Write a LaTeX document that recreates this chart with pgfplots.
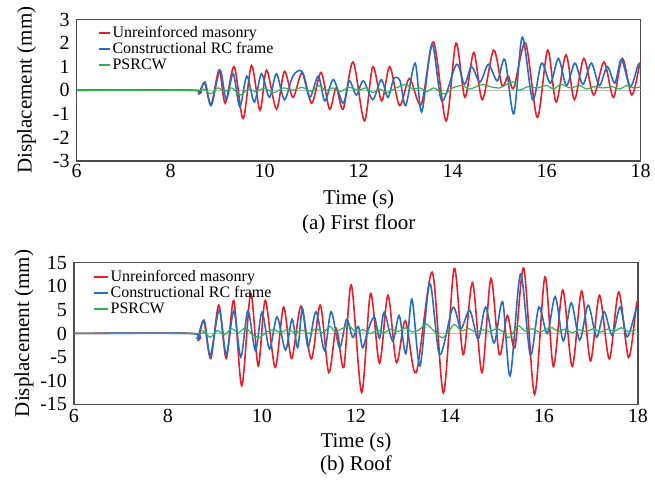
\documentclass[border=0pt]{standalone}
\usepackage{fontspec}
\setmainfont{Liberation Serif}
\usepackage{pgfplots}
\pgfplotsset{compat=1.18}
\definecolor{cred}{RGB}{232,30,42}
\definecolor{cblue}{RGB}{36,112,192}
\definecolor{cgreen}{RGB}{52,176,84}
\pgfplotsset{
 panel/.style={
  scale only axis, width=282pt, height=70.75pt,
  xmin=6, xmax=18, xtick={6,8,...,18},
  major tick length=0pt,
  axis line style={draw=black!70, line width=0.6pt},
  tick label style={font=\fontsize{10}{12}\selectfont},
  /pgf/number format/assume math mode=true,
  xticklabel style={anchor=center, yshift=-5pt},
  label style={font=\fontsize{10.5}{12}\selectfont},
  xlabel style={at={(axis description cs:0.5,0)}, anchor=center, yshift=-19pt},
  ylabel style={at={([xshift=-25pt]axis description cs:0,0.5)}, anchor=center},
  legend style={draw=none, fill=none, anchor=north west, font=\fontsize{8}{8.5}\selectfont,
    inner sep=0pt, row sep=-0.6pt, nodes={inner sep=0.8pt}},
  legend cell align=left,
  legend image code/.code={\draw[##1, line width=1pt] (0pt,0.3pt) -- (5.5pt,0.3pt);},
  xlabel={Time (s)}, ylabel={Displacement (mm)},
 },
 longleg/.style={legend image code/.code={\draw[##1, line width=1pt] (0pt,0.3pt) -- (7pt,0.3pt);}},
}
\begin{document}
\begin{tikzpicture}
\useasboundingbox (-38.35pt,9.75pt) rectangle (289.15pt,-229.75pt);
\begin{axis}[panel, name=top, at={(0pt,0pt)}, anchor=north west,
  ymin=-3, ymax=3, ytick={-3,-2,...,3},
  legend style={at={(axis description cs:0.037,0.965)}}]
\addplot[black!25, line width=0.6pt, forget plot] coordinates {(6,0) (18,0)};
\addplot[cred, line width=0.8pt, smooth] coordinates {
(6.0,0) (8.45,0) (8.6,-0.1) (8.72,0.3) (8.86,-0.6) (9.03,0.85) (9.16,-0.55) (9.35,1.0)
(9.54,-1.2) (9.72,1.05) (9.9,-0.85) (10.04,0.85) (10.25,-0.8) (10.42,0.8) (10.6,-0.3)
(10.8,0.75) (11.0,-0.55) (11.2,0.75) (11.38,-0.8) (11.52,0.1) (11.67,-0.8) (11.88,1.2)
(12.12,-1.3) (12.3,1.0) (12.49,-0.45) (12.66,1.0) (12.87,-0.65) (13.08,0.5) (13.33,-0.6)
(13.59,2.05) (13.86,-1.3) (14.07,2.0) (14.26,-0.3) (14.45,1.6) (14.63,-0.4) (14.87,1.7)
(15.05,0.2) (15.18,0.6) (15.3,0.1) (15.55,2.0) (15.8,-1.15) (16.02,1.7) (16.2,-0.5)
(16.41,1.5) (16.59,-0.4) (16.79,1.35) (17.0,-0.2) (17.22,1.2) (17.42,-0.3) (17.61,1.35)
(17.81,-0.2) (17.98,1.1) (18.0,1.05)};
\addlegendentry{Unreinforced masonry}
\addplot[cblue, line width=0.8pt, smooth] coordinates {
(6,0) (8.45,0) (8.6,-0.15) (8.73,0.35) (8.86,-0.65) (9.05,0.85) (9.18,-0.4) (9.33,0.7)
(9.47,-0.7) (9.62,0.6) (9.78,-0.5) (9.93,0.7) (10.1,-0.3) (10.25,0.7) (10.42,-0.4)
(10.6,0.6) (10.79,0.8) (10.96,-0.3) (11.14,0.6) (11.28,-0.45) (11.46,0.45) (11.67,-0.55)
(11.8,0.4) (11.95,-0.2) (12.1,0.4) (12.3,-0.4) (12.48,0.45) (12.62,-0.3) (12.75,0.5)
(12.88,0.4) (13.0,-0.65) (13.2,1.15) (13.34,-0.92) (13.56,1.95) (13.77,-0.45) (14.08,1.1)
(14.25,0.25) (14.4,1.0) (14.58,0.35) (14.76,1.1) (14.95,0.4) (15.11,1.3) (15.3,-1.0)
(15.48,2.25) (15.7,-0.4) (15.89,1.15) (16.08,0.3) (16.25,1.35) (16.42,0.2) (16.6,1.15)
(16.77,0.25) (16.95,1.15) (17.12,0.2) (17.29,1.0) (17.45,0.3) (17.59,1.3) (17.78,0.15)
(17.95,1.1) (18.0,1.0)};
\addlegendentry{Constructional RC frame}
\addplot[cgreen, line width=0.6pt, smooth] coordinates {
(6,0) (8.5,0) (8.7,0.05) (8.85,-0.15) (9.0,0.1) (9.15,-0.05) (9.3,0.1) (9.48,-0.2)
(9.65,0.05) (9.8,-0.05) (10.0,0.08) (10.2,-0.1) (10.4,0.1) (10.6,0) (10.8,0.12)
(11.0,-0.05) (11.15,0.2) (11.3,0.0) (11.45,0.1) (11.6,-0.05) (11.8,0.12) (12.0,0.0)
(12.15,0.1) (12.3,-0.1) (12.45,0.05) (12.6,-0.1) (12.8,0.1) (13.0,0.25) (13.15,0.05)
(13.3,0.1) (13.45,-0.05) (13.6,0.1) (13.75,-0.1) (13.85,-0.15) (14.0,0.1) (14.2,0.2)
(14.35,0.05) (14.5,0.15) (14.65,0.25) (14.8,0.15) (15.0,0.1) (15.15,0.25) (15.3,0.35)
(15.4,0.0) (15.6,0.15) (15.8,0.1) (16.0,0.2) (16.15,0.05) (16.3,0.25) (16.5,0.1)
(16.7,0.2) (16.85,0.05) (17.0,0.15) (17.2,0.1) (17.4,0.15) (17.55,0.05) (17.7,0.2)
(17.85,0.1) (18.0,0.15)};
\addlegendentry{PSRCW}
\end{axis}
\node[font=\fontsize{10.5}{12}\selectfont] at ([yshift=-31.5pt]top.south) {(a) First floor};
\begin{axis}[panel, longleg, name=bot, at={(-1.35pt,-121.6pt)}, anchor=north west,
  ymin=-15, ymax=15, ytick={-15,-10,...,15},
  xticklabel style={yshift=-1pt},
  legend style={at={(axis description cs:0.033,0.962)}}]
\addplot[black!25, line width=0.6pt, forget plot] coordinates {(6,0) (18,0)};
\addplot[cred, line width=0.8pt, smooth] coordinates {
(6,0) (8.5,0) (8.64,-1.4) (8.76,2.7) (8.91,-5.3) (9.08,6.0) (9.24,-5.3) (9.4,7.0)
(9.57,-11.1) (9.76,8.5) (9.92,-6.9) (10.07,7.0) (10.28,-7.2) (10.46,5.6) (10.63,-5.3)
(10.83,5.8) (11.05,-5.4) (11.24,6.0) (11.42,-8.3) (11.58,1.0) (11.74,-7.2) (11.9,10.3)
(12.12,-12.5) (12.31,8.5) (12.5,-6.3) (12.68,8.1) (12.86,-6.2) (13.05,2.7) (13.28,-8.3)
(13.62,13.0) (13.86,-12.6) (14.09,13.8) (14.28,-4.5) (14.48,10.8) (14.68,-8.3) (14.87,11.7)
(15.05,-4.5) (15.22,3.8) (15.38,-3.0) (15.57,13.8) (15.8,-12.9) (16.02,12.0) (16.2,-7.0)
(16.4,9.2) (16.6,-7.0) (16.8,9.0) (16.99,-5.8) (17.18,8.1) (17.39,-5.4) (17.59,8.8)
(17.8,-5.1) (17.97,6.3) (18.0,6.0)};
\addlegendentry{Unreinforced masonry}
\addplot[cblue, line width=0.8pt, smooth] coordinates {
(6,0) (8.5,0) (8.62,-1.0) (8.77,2.8) (8.9,-4.7) (9.09,5.0) (9.24,-4.5) (9.4,4.8)
(9.55,-5.0) (9.7,4.8) (9.86,-3.6) (10.0,4.5) (10.16,-3.3) (10.32,3.5) (10.5,-3.5)
(10.64,3.0) (10.76,-3.0) (10.86,5.3) (10.98,-2.9) (11.15,4.6) (11.33,-3.6) (11.47,4.6)
(11.65,-3.0) (11.8,3.0) (11.93,-0.8) (12.05,1.5) (12.14,-3.0) (12.25,0.5) (12.39,3.5)
(12.5,-1.0) (12.6,4.5) (12.78,-1.6) (12.92,3.8) (13.06,-4.3) (13.19,7.3) (13.36,-6.9)
(13.57,10.6) (13.78,-4.5) (14.06,5.5) (14.23,1.0) (14.42,4.9) (14.6,-1.2) (14.76,5.6)
(14.94,-2.0) (15.12,6.7) (15.28,-9.0) (15.5,12.6) (15.71,-4.6) (15.89,5.6) (16.07,0.0)
(16.24,7.8) (16.41,-1.6) (16.58,6.5) (16.76,-1.4) (16.94,6.0) (17.12,-0.8) (17.28,4.6)
(17.45,-0.4) (17.62,5.6) (17.77,-0.7) (17.96,5.0) (18.0,4.5)};
\addlegendentry{Constructional RC frame}
\addplot[cgreen, line width=0.6pt, smooth] coordinates {
(6,0) (8.6,0) (8.75,0.5) (8.9,-0.8) (9.05,0.6) (9.2,-0.3) (9.35,1.0) (9.5,0.2)
(9.65,1.2) (9.8,-0.3) (9.95,-0.8) (10.1,0.3) (10.25,0.8) (10.4,0.2) (10.55,0.9)
(10.7,0.1) (10.85,0.7) (11.0,0.0) (11.15,1.0) (11.3,0.2) (11.45,1.5) (11.55,0.4)
(11.7,1.0) (11.85,1.6) (12.0,0.3) (12.15,0.8) (12.3,0.0) (12.45,0.7) (12.6,0.2)
(12.75,0.9) (12.9,0.4) (13.05,1.2) (13.2,0.3) (13.35,0.8) (13.49,2.0) (13.65,0.6)
(13.84,-0.9) (14.0,0.8) (14.09,1.9) (14.25,0.6) (14.4,1.0) (14.55,0.3) (14.7,0.8)
(14.85,0.4) (15.0,1.0) (15.15,0.2) (15.26,-0.9) (15.38,0.8) (15.47,1.6) (15.6,0.5)
(15.75,1.0) (15.9,0.3) (16.05,0.9) (16.18,1.2) (16.3,0.4) (16.45,0.9) (16.6,0.2)
(16.75,0.8) (16.9,0.4) (17.05,1.0) (17.2,0.3) (17.35,0.9) (17.5,0.5) (17.65,1.2)
(17.8,0.4) (17.95,0.8)};
\addlegendentry{PSRCW}
\end{axis}
\node[font=\fontsize{10.5}{12}\selectfont] at ([yshift=-30.5pt]bot.south) {(b) Roof};
\end{tikzpicture}
\end{document}
